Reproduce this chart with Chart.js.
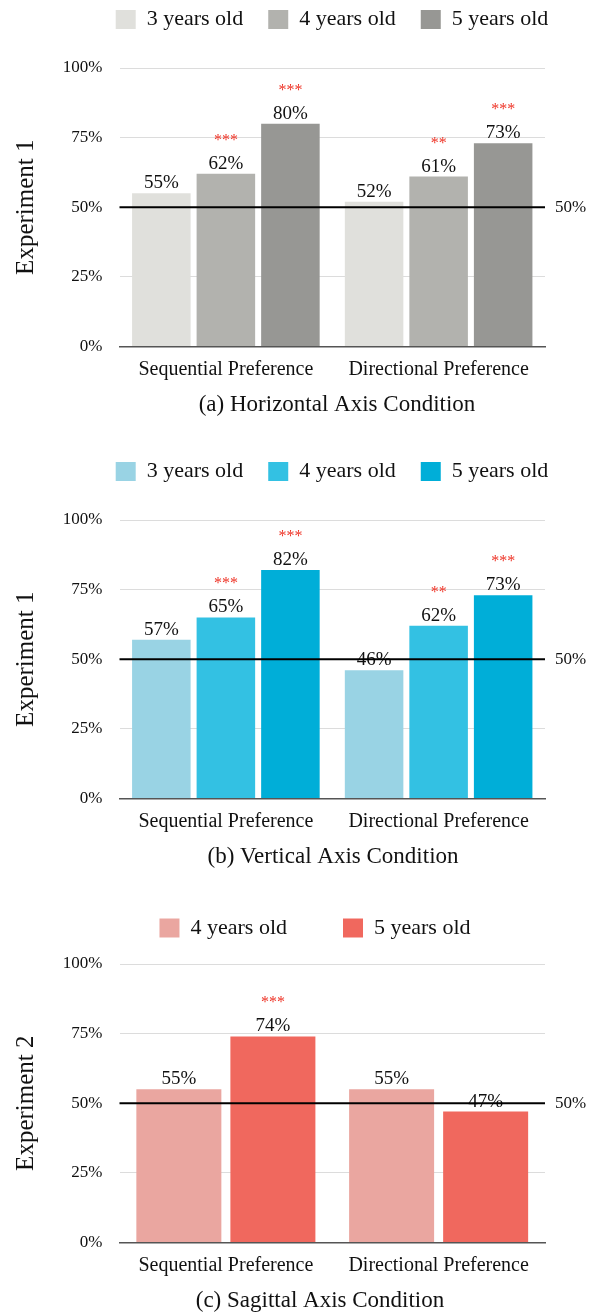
<!DOCTYPE html>
<html>
<head>
<meta charset="utf-8">
<script src="https://cdn.jsdelivr.net/npm/chart.js"></script>
<style>
  html, body { margin: 0; background: #fff; overflow: hidden; }
  .box { position: absolute; left: 0; width: 595px; height: 423px; }
</style>
</head>
<body>
<div class="box" style="top:0"><canvas id="c1"></canvas></div>
<div class="box" style="top:452px"><canvas id="c2"></canvas></div>
<div class="box" style="top:896px"><canvas id="c3"></canvas></div>
<script>
const categories = ['Sequential Preference', 'Directional Preference'];
const yTicks = [0, 25, 50, 75, 100];

// (a) Horizontal axis
const horizLabels = ['3 years old', '4 years old', '5 years old'];
const horiz3 = [55, 52];
const horiz4 = [62, 61];
const horiz5 = [80, 73];
const horizStars = [['', ''], ['***', '**'], ['***', '***']];

// (b) Vertical axis
const vertLabels = ['3 years old', '4 years old', '5 years old'];
const vert3 = [57, 46];
const vert4 = [65, 62];
const vert5 = [82, 73];
const vertStars = [['', ''], ['***', '**'], ['***', '***']];

// (c) Sagittal axis
const sagLabels = ['4 years old', '5 years old'];
const sag4 = [55, 55];
const sag5 = [74, 47];
const sagStars = [['', ''], ['***', '']];

const chanceLevel = 50;
const FONT = '"Liberation Serif", "Times New Roman", serif';

// fixed legend height + legend/caption placement, value labels, stars, 50% line
const annotate = {
  id: 'annotate',
  beforeLayout(chart, args, opts) {
    const lg = chart.legend;
    if (lg && !lg._wrapped) {
      const fit = lg.fit;
      lg.fit = function () {
        fit.call(this);
        this.height = opts.legendHeight;
      };
      lg._wrapped = true;
    }
  },
  afterLayout(chart, args, opts) {
    const lg = chart.legend;
    lg.left = opts.legendCenter - 290;
    lg.right = opts.legendCenter + 290;
    lg.top = opts.legendTop;
    lg.bottom = lg.top + 150;
    const tb = chart.titleBlock;
    tb.left = opts.captionCenter - 280;
    tb.right = opts.captionCenter + 280;
  },
  afterDatasetsDraw(chart, args, opts) {
    const ctx = chart.ctx;
    const y = chart.scales.y;
    const area = chart.chartArea;
    ctx.save();
    chart.data.datasets.forEach((ds, i) => {
      chart.getDatasetMeta(i).data.forEach((bar, j) => {
        ctx.textAlign = 'center';
        ctx.textBaseline = 'alphabetic';
        ctx.fillStyle = '#111';
        ctx.font = '19px ' + FONT;
        ctx.fillText(ds.data[j] + '%', bar.x, bar.y - 5);
        const s = opts.stars[i][j];
        if (s) {
          ctx.fillStyle = '#ee3326';
          ctx.font = '16px ' + FONT;
          ctx.fillText(s, bar.x, bar.y - 29);
        }
      });
    });
    const py = y.getPixelForValue(chanceLevel);
    ctx.strokeStyle = '#000';
    ctx.lineWidth = 2;
    ctx.beginPath();
    ctx.moveTo(area.left, py);
    ctx.lineTo(area.right, py);
    ctx.stroke();
    ctx.fillStyle = '#111';
    ctx.font = '17px ' + FONT;
    ctx.textAlign = 'left';
    ctx.textBaseline = 'middle';
    ctx.fillText(chanceLevel + '%', area.right + 10, py);
    ctx.restore();
  }
};

function makeChart(id, labels, series, colors, stars, yTitle, caption, catPct, barPct, legendPad, legendTop, legendCenter, captionCenter) {
  new Chart(document.getElementById(id), {
    type: 'bar',
    data: {
      labels: categories,
      datasets: series.map((d, i) => ({
        label: labels[i],
        data: d,
        backgroundColor: colors[i],
        categoryPercentage: catPct,
        barPercentage: barPct
      }))
    },
    plugins: [annotate],
    options: {
      responsive: true,
      maintainAspectRatio: false,
      animation: false,
      layout: { padding: { left: 0, right: 50, top: 0, bottom: 0 } },
      plugins: {
        annotate: {
          stars: stars, legendHeight: 68, legendTop: legendTop,
          legendCenter: legendCenter, captionCenter: captionCenter
        },
        tooltip: { enabled: false },
        legend: {
          position: 'top',
          labels: {
            boxWidth: 20, boxHeight: 19, padding: legendPad,
            color: '#111',
            font: { family: FONT, size: 22 }
          }
        },
        title: {
          display: true,
          position: 'bottom',
          text: caption,
          color: '#111',
          font: { family: FONT, size: 23, weight: 'normal' },
          padding: { top: 5, bottom: 4 }
        }
      },
      scales: {
        x: {
          afterFit(s) { s.height = 40; },
          grid: { display: false, drawTicks: false },
          border: { color: '#555', width: 1.5 },
          ticks: { color: '#111', font: { family: FONT, size: 20 }, padding: 11 }
        },
        y: {
          min: 0, max: 100,
          afterBuildTicks(s) { s.ticks = yTicks.map(v => ({ value: v })); },
          afterFit(s) { s.width = 119.5; },
          border: { display: false },
          grid: { color: '#dcdcdc', drawTicks: false },
          ticks: {
            color: '#111', padding: 17,
            font: { family: FONT, size: 17 },
            callback: v => v + '%'
          },
          title: {
            display: true, text: yTitle, color: '#111',
            font: { family: FONT, size: 25 }, padding: { top: 11, bottom: 0 }
          }
        }
      }
    }
  });
}

makeChart('c1', horizLabels, [horiz3, horiz4, horiz5],
  ['#e0e0dc', '#b2b2ae', '#979794'], horizStars,
  'Experiment 1', '(a) Horizontal Axis Condition', 0.91, 0.907, 25, -16.5, 332, 337);
makeChart('c2', vertLabels, [vert3, vert4, vert5],
  ['#99d3e4', '#33c1e3', '#00aed8'], vertStars,
  'Experiment 1', '(b) Vertical Axis Condition', 0.91, 0.907, 25, -16.5, 332, 333);
makeChart('c3', sagLabels, [sag4, sag5],
  ['#eaa6a0', '#f0685e'], sagStars,
  'Experiment 2', '(c) Sagittal Axis Condition', 0.884, 0.904, 56, -35, 315, 320);
</script>
</body>
</html>
